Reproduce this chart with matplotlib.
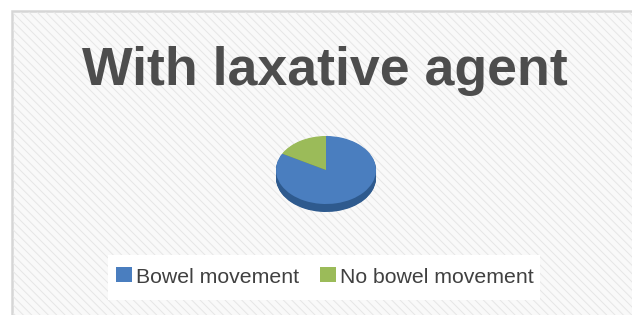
import matplotlib
matplotlib.use("Agg")
import matplotlib.pyplot as plt
from matplotlib.patches import Rectangle

title = "With laxative agent"
categories = ["Bowel movement", "No bowel movement"]
values = [83, 17]
top_colors = ["#4a7ebf", "#9bbb59"]
side_colors = ["#2e5a8e", "#6f8a3a"]

W, H = 632, 315
fig = plt.figure(figsize=(W / 100, H / 100), dpi=100)
fig.patch.set_facecolor("white")

# background panel
bg = fig.add_axes([0, 0, 1, 1])
bg.set_xlim(0, W)
bg.set_ylim(H, 0)
bg.axis("off")
bg.add_patch(Rectangle((12, 11), W, H, facecolor="#f9f9f9", edgecolor="#d6d6d6", lw=1.8))
plt.rcParams["hatch.linewidth"] = 0.7
bg.add_patch(Rectangle((13, 12), W, H, facecolor="none", edgecolor="#e6e6e6", lw=0,
                       hatch="\\\\\\\\"))
# legend box
bg.add_patch(Rectangle((108, 255), 432, 45, facecolor="white", edgecolor="none"))

fig.text(325 / W, 1 - 85 / H, title, ha="center", va="baseline",
         fontsize=38.6, fontweight="bold", color="#4d4d4d", family="Liberation Sans")

# pie axes: top face ellipse center (326,170), half-width 50, half-height 34
cx, cy, rx, ry = 326, 170, 50, 34
depth = 8
ax = fig.add_axes([(cx - rx) / W, 1 - (cy + ry + depth) / H, 2 * rx / W, (2 * ry + depth) / H])
ax.axis("off")
d = depth / ry  # in unit radius
n = 12
for i in range(n, 0, -1):
    off = -d * i / n
    ax.pie(values, colors=side_colors, startangle=90, counterclock=False,
           center=(0, off), radius=1, wedgeprops=dict(linewidth=0))
ax.pie(values, colors=top_colors, startangle=90, counterclock=False,
       center=(0, 0), radius=1, wedgeprops=dict(linewidth=0))
ax.set_aspect("auto")
ax.set_xlim(-1, 1)
ax.set_ylim(-1 - d, 1)

# legend
items = [(116, categories[0], top_colors[0]), (320, categories[1], top_colors[1])]
for x, lab, c in items:
    bg.add_patch(Rectangle((x, 267), 16, 15, facecolor=c, edgecolor="none"))
    bg.text(x + 20, 283, lab, ha="left", va="baseline", fontsize=15.3,
            color="#404040", family="Liberation Sans")

fig.savefig("out.png", dpi=100)
